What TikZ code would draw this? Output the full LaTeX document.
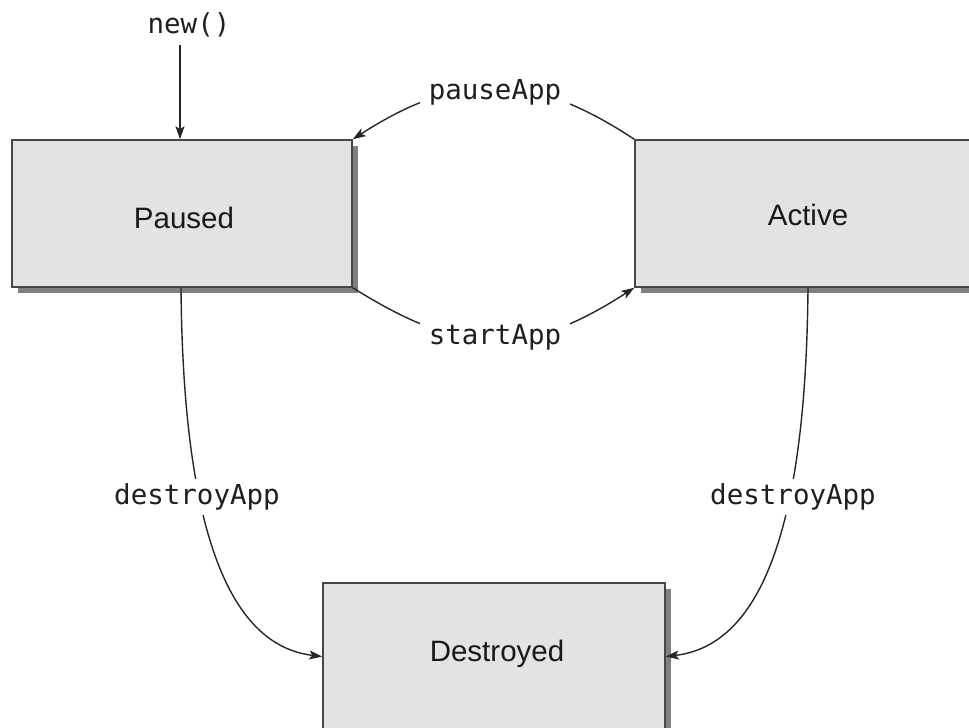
\documentclass[tikz,border=0pt]{standalone}
\usepackage{fontspec}
\setmainfont{Liberation Sans}
\newfontfamily\codefont{DejaVu Sans Mono}
\usetikzlibrary{arrows.meta,shadows}

\begin{document}
\begin{tikzpicture}[x=1pt,y=-1pt,
  statebox/.style={draw=black!72, line width=1.5pt, fill=black!11,
    minimum width=340pt, minimum height=147pt, inner sep=0pt,
    drop shadow={shadow xshift=6pt, shadow yshift=-6pt, fill=black!50, opacity=1}},
  statetext/.style={font=\fontsize{29.5}{34}\selectfont, text=black!90},
  calltext/.style={font=\codefont\fontsize{27.5}{32}\selectfont, text=black!88,
    fill=white, inner xsep=9pt, inner ysep=5pt},
  conn/.style={draw=black!85, line width=1.4pt,
    -{Stealth[length=13pt,width=9pt,inset=3pt]}}]

\useasboundingbox (0,0) rectangle (969,728);

% states
\node[statebox] (paused) at (182,213.5) {};
\node[statebox] (active) at (805,213.5) {};
\node[statebox, minimum width=342pt] (destroyed) at (494,656.5) {};

\node[statetext] (pausedlabel) at (184,218) {Paused};
\node[statetext] (activelabel) at (808,215) {Active};
\node[statetext] (destroyedlabel) at (497,654) {Destroyed};

% creation
\node[calltext, fill=none] (new) at (189,25) {new()};
\coordinate (newin) at (180,45);
\draw[conn, line width=1.8pt] (newin) -- (newin |- paused.north);

% transitions between paused and active
\draw[conn] (active.north west) .. controls (531,71) and (459,71) .. (paused.north east);
\node[calltext] (pause) at (495,92) {pauseApp};

\draw[conn] (paused.south east) .. controls (463,357) and (527,357) .. (active.south west);
\node[calltext] (start) at (495,337) {startApp};

% destruction
\draw[conn] (paused.south -| 181,0) .. controls (183,520) and (225,645) .. (destroyed.west);
\node[calltext] (destroyleft) at (197,497) {destroyApp};

\draw[conn] (active.south -| 808,0) .. controls (806,520) and (764,645) .. (destroyed.east);
\node[calltext] (destroyright) at (793,497) {destroyApp};

\end{tikzpicture}
\end{document}
